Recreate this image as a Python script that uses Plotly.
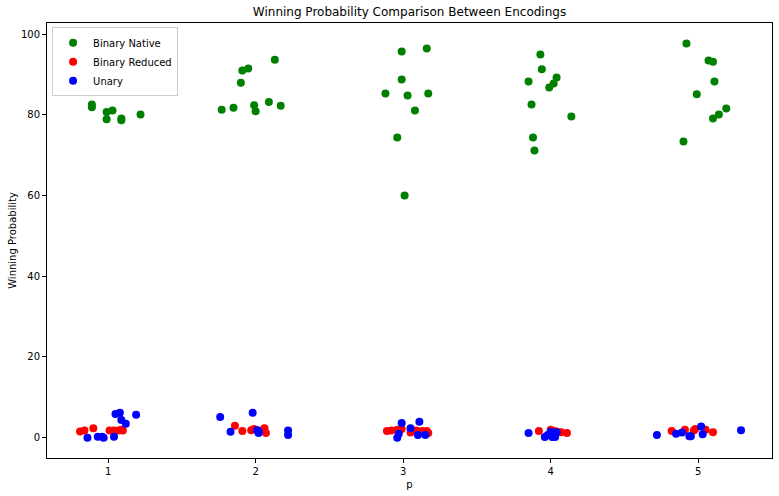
import plotly.graph_objects as go

# Jittered p positions and winning probabilities
native_x = [0.89, 0.89, 0.99, 1.03, 0.99, 1.09, 1.09, 1.22,
            1.77, 1.85, 1.90, 1.91, 1.95, 1.99, 2.00, 2.09, 2.13, 2.17,
            2.88, 2.99, 3.16, 2.99, 3.03, 3.17, 3.08, 2.96, 3.01,
            3.93, 3.94, 3.85, 4.04, 4.02, 3.99, 3.87, 4.14, 3.88, 3.89,
            4.92, 5.07, 5.10, 5.11, 4.99, 5.19, 5.14, 5.10, 4.90]
native_y = [82.6, 81.9, 80.7, 81.1, 78.9, 79.1, 78.7, 80.1,
            81.3, 81.8, 88.0, 91.0, 91.5, 82.4, 80.9, 83.2, 93.7, 82.3,
            85.3, 95.7, 96.5, 88.8, 84.8, 85.3, 81.1, 74.4, 60.0,
            95.0, 91.3, 88.3, 89.3, 87.8, 86.8, 82.6, 79.6, 74.4, 71.2,
            97.7, 93.5, 93.2, 88.3, 85.1, 81.6, 80.1, 79.1, 73.4]

reduced_x = [0.81, 0.84, 0.90, 1.01, 1.04, 1.07, 1.10, 1.09,
             1.86, 1.91, 1.97, 1.99, 2.02, 2.06, 2.07,
             2.89, 2.92, 2.96, 2.99, 3.05, 3.09, 3.13, 3.16, 3.17,
             3.92, 4.00, 4.02, 4.04, 4.07, 4.11,
             4.82, 4.91, 4.97, 4.98, 5.05, 5.10]
reduced_y = [1.5, 1.7, 2.3, 1.7, 1.7, 1.7, 1.7, 1.9,
             2.9, 1.6, 1.8, 2.1, 1.7, 2.3, 1.1,
             1.6, 1.7, 1.9, 2.1, 1.2, 1.7, 1.6, 1.6, 1.1,
             1.6, 1.9, 1.6, 1.5, 1.3, 1.1,
             1.6, 1.9, 1.7, 2.1, 1.9, 1.3]

unary_x = [0.86, 0.93, 0.96, 0.97, 1.04, 1.05, 1.08, 1.09, 1.12, 1.19,
           1.76, 1.83, 1.98, 2.02, 2.02, 2.01, 2.22, 2.22,
           2.99, 2.97, 2.96, 3.05, 3.11, 3.10, 3.15,
           3.85, 3.96, 3.98, 4.00, 4.01, 4.03, 4.04,
           4.72, 4.85, 4.89, 4.94, 4.95, 5.02, 5.03, 5.29]
unary_y = [-0.1, 0.2, 0.2, -0.1, 0.2, 5.8, 6.1, 4.3, 3.4, 5.6,
           5.1, 1.4, 6.1, 1.5, 1.1, 1.8, 1.7, 0.6,
           3.6, 0.9, -0.1, 2.3, 3.9, 0.6, 0.6,
           1.1, 0.1, 0.6, 1.4, 0.1, 0.1, 1.3,
           0.6, 0.9, 1.2, 0.3, 0.3, 2.7, 0.8, 1.8]

x_ticks = [1, 2, 3, 4, 5]
y_ticks = [0, 20, 40, 60, 80, 100]

series = [
    ("Binary Native", native_x, native_y, "#008000"),
    ("Binary Reduced", reduced_x, reduced_y, "#ff0000"),
    ("Unary", unary_x, unary_y, "#0000ff"),
]

fig = go.Figure()
for name, xs, ys, color in series:
    fig.add_trace(go.Scatter(
        x=xs, y=ys, mode="markers", name=name,
        marker=dict(color=color, size=8, line=dict(width=0)),
    ))

font_family = "DejaVu Sans"
fig.update_layout(
    width=779, height=496,
    margin=dict(l=47, r=7, t=23, b=38, autoexpand=False),
    paper_bgcolor="white", plot_bgcolor="white",
    font=dict(family=font_family, size=10, color="black"),
    title=dict(text="Winning Probability Comparison Between Encodings",
               x=0.5, xref="paper", xanchor="center",
               y=1 - 12 / 496, yanchor="middle",
               font=dict(size=12, family=font_family, color="black")),
    showlegend=True,
    legend=dict(x=0.007, y=0.99, xanchor="left", yanchor="top",
                bgcolor="rgba(255,255,255,0.8)", bordercolor="#cccccc",
                borderwidth=1, font=dict(size=10, family=font_family),
                itemsizing="trace", tracegroupgap=0, itemwidth=30),
)
fig.update_xaxes(
    range=[0.586, 5.50], tickvals=x_ticks, ticktext=[str(t) for t in x_ticks],
    showgrid=False, zeroline=False, showline=True, mirror=True,
    linecolor="black", linewidth=1, ticks="outside", ticklen=4,
    tickcolor="black", tickfont=dict(size=10), automargin=False,
    title=dict(text="p", font=dict(size=10), standoff=4),
)
fig.update_yaxes(
    range=[-5.1, 102.8], tickvals=y_ticks, ticktext=[str(t) for t in y_ticks],
    showgrid=False, zeroline=False, showline=True, mirror=True,
    linecolor="black", linewidth=1, ticks="outside", ticklen=4,
    tickcolor="black", tickfont=dict(size=10), automargin=False,
    title=dict(text="Winning Probability", font=dict(size=10), standoff=2),
)

fig.write_html(
    "out.html",
    config={"displayModeBar": False},
    post_script="document.body.style.margin='0';document.body.style.overflow='hidden';",
)
